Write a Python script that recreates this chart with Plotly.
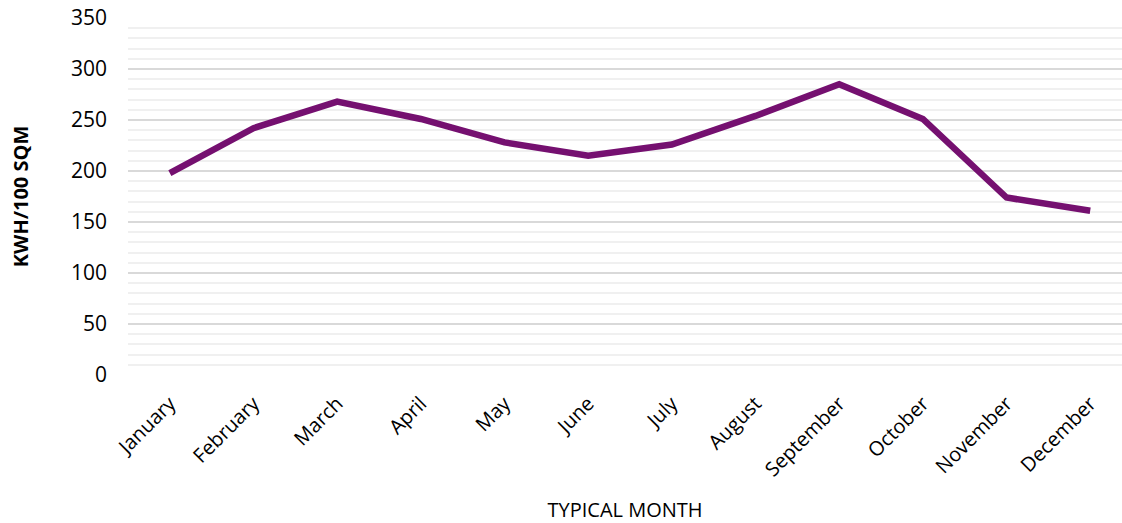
import plotly.graph_objects as go

months = ["January", "February", "March", "April", "May", "June",
          "July", "August", "September", "October", "November", "December"]
kwh_per_100sqm = [198, 242, 268, 251, 228, 215, 226, 254, 285, 251, 174, 161]

font_family = "Open Sans, Lato, Liberation Sans, sans-serif"

fig = go.Figure(
    go.Scatter(
        x=months,
        y=kwh_per_100sqm,
        mode="lines",
        line=dict(color="#751070", width=6.5),
        hoverinfo="x+y",
    )
)

fig.update_layout(
    width=1122,
    height=523,
    margin=dict(l=128, r=0, t=18, b=148),
    paper_bgcolor="white",
    plot_bgcolor="white",
    showlegend=False,
    font=dict(family=font_family, color="#000000"),
)

fig.update_xaxes(
    type="category",
    range=[-0.5, 11.38],
    showgrid=False,
    zeroline=False,
    showline=False,
    tickangle=-45,
    tickfont=dict(size=20),
    ticklabelstandoff=12,
    title=dict(text="TYPICAL MONTH", font=dict(size=20), standoff=28),
)

fig.update_yaxes(
    range=[0, 350],
    dtick=50,
    showgrid=True,
    gridcolor="#d9d9d9",
    gridwidth=1.5,
    zeroline=False,
    showline=False,
    tickfont=dict(size=21),
    ticklabelstandoff=20,
    minor=dict(dtick=10, showgrid=True, gridcolor="#f0f0f0", gridwidth=1.5),
    title=dict(text="<b>KWH/100 SQM</b>", font=dict(size=20), standoff=36),
)

fig.write_html("out.html")
